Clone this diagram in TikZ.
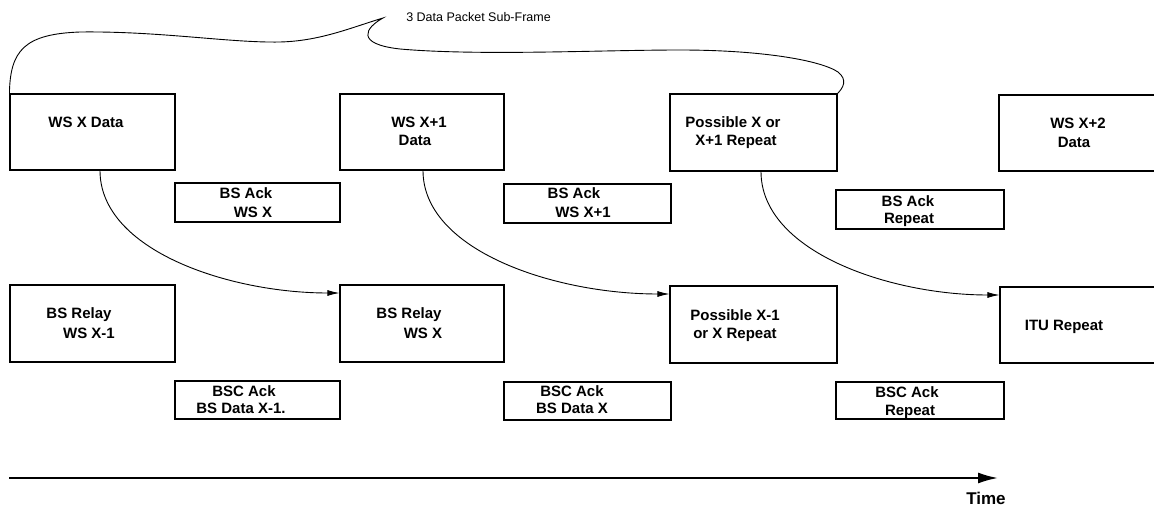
\documentclass[tikz,border=0pt]{standalone}
\usepackage{fontspec}
\setmainfont{Liberation Sans}
\usetikzlibrary{arrows.meta}

\begin{document}
\begin{tikzpicture}[x=1pt,y=1pt,
  box/.style={draw, rectangle, line width=1.1pt, inner sep=0pt},
  lbl/.style={inner sep=0pt, text height=10.7pt, text depth=0pt,
    font=\fontsize{15}{18}\selectfont\bfseries},
  flow/.style={line width=0.9pt, -{Latex[length=12pt,width=6pt]}},
  brace/.style={line width=0.9pt}
]
\useasboundingbox (0,0) rectangle (1154,-508);
\clip (0,0) rectangle (1154,-508);
\fill[white] (0,0) rectangle (1154,-508);

% top row: data packets
\node[box, minimum width=165pt, minimum height=76pt] (A1) at (92.5,-132) {};
\node[box, minimum width=164pt, minimum height=76pt] (C1) at (422,-132) {};
\node[box, minimum width=167pt, minimum height=77pt] (E1) at (753.5,-132.5) {};
\node[box, minimum width=166pt, minimum height=76pt] (G1) at (1082,-133) {};

% base station acknowledgements
\node[box, minimum width=165pt, minimum height=39pt] (B2) at (257.5,-202.5) {};
\node[box, minimum width=167pt, minimum height=39pt] (D2) at (587.5,-203.5) {};
\node[box, minimum width=168pt, minimum height=39pt] (F2) at (920,-209.5) {};

% relay row
\node[box, minimum width=165pt, minimum height=77pt] (A3) at (92.5,-323.5) {};
\node[box, minimum width=164pt, minimum height=77pt] (C3) at (422,-323.5) {};
\node[box, minimum width=167pt, minimum height=77pt] (E3) at (753.5,-324.5) {};
\node[box, minimum width=165pt, minimum height=76pt] (G3) at (1082.5,-325) {};

% BSC acknowledgements
\node[box, minimum width=165pt, minimum height=38pt] (B4) at (257.5,-400) {};
\node[box, minimum width=167pt, minimum height=38pt] (D4) at (587.5,-401) {};
\node[box, minimum width=168pt, minimum height=37pt] (F4) at (920,-400.5) {};

% labels
\node[lbl] (tA1) at (86,-122) {WS X Data};
\node[lbl] (tC1a) at (419,-122) {WS X+1};
\node[lbl] (tC1b) at (415,-140) {Data};
\node[lbl] (tE1a) at (733,-122) {Possible X or};
\node[lbl] (tE1b) at (736,-140) {X+1 Repeat};
\node[lbl] (tG1a) at (1078,-123) {WS X+2};
\node[lbl] (tG1b) at (1074,-142) {Data};

\node[lbl] (tB2a) at (246,-193) {BS Ack};
\node[lbl] (tB2b) at (253,-212) {WS X};
\node[lbl] (tD2a) at (574,-193) {BS Ack};
\node[lbl] (tD2b) at (583,-212) {WS X+1};
\node[lbl] (tF2a) at (908,-201) {BS Ack};
\node[lbl] (tF2b) at (909,-218) {Repeat};

\node[lbl] (tA3a) at (79,-313) {BS Relay};
\node[lbl] (tA3b) at (89,-333) {WS X-1};
\node[lbl] (tC3a) at (409,-313) {BS Relay};
\node[lbl] (tC3b) at (423,-333) {WS X};
\node[lbl] (tE3a) at (735,-315) {Possible X-1};
\node[lbl] (tE3b) at (735,-333) {or X Repeat};
\node[lbl] (tG3) at (1064,-325) {ITU Repeat};

\node[lbl] (tB4a) at (244,-391) {BSC Ack};
\node[lbl] (tB4b) at (241,-408) {BS Data X-1.};
\node[lbl] (tD4a) at (572,-391) {BSC Ack};
\node[lbl] (tD4b) at (572,-408) {BS Data X};
\node[lbl] (tF4a) at (907,-392) {BSC Ack};
\node[lbl] (tF4b) at (910,-410) {Repeat};

% sub-frame brace
\node[inner sep=0pt, font=\fontsize{12.5}{14}\selectfont] (sub) at (478.5,-17) {3 Data Packet Sub-Frame};
\draw[brace] (A1.north west)
  .. controls (10,-50) and (25,-34) .. (80,-32)
  .. controls (160,-31) and (230,-43) .. (280,-42)
  .. controls (320,-41) and (350,-28) .. (383,-18)
  .. controls (365,-28) and (355,-44) .. (400,-49)
  .. controls (480,-56) and (600,-50) .. (680,-50)
  .. controls (760,-50) and (820,-60) .. (838,-72)
  .. controls (848,-80) and (843,-88) .. (E1.north east);

% relay transfers
\draw[flow] ([xshift=7.5pt]A1.south) to[out=-90, in=180, out distance=80pt, in distance=110pt] ([yshift=30.5pt]C3.west);
\draw[flow] ([xshift=1pt]C1.south) to[out=-90, in=180, out distance=80pt, in distance=115pt] ([yshift=30.5pt]E3.west);
\draw[flow] ([xshift=7.5pt]E1.south) to[out=-90, in=180, out distance=80pt, in distance=110pt] ([yshift=30pt]G3.west);

% time axis
\coordinate (t0) at (9,-478);
\coordinate (t1) at (998,-478);
\draw[line width=2pt, -{Latex[length=20pt,width=11pt]}] (t0) -- (t1);
\node[inner sep=0pt, font=\fontsize{17}{19}\selectfont\bfseries] (time) at (986,-498) {Time};
\end{tikzpicture}
\end{document}
